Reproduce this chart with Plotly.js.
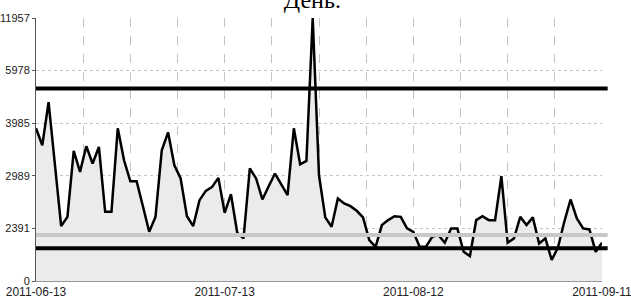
<!DOCTYPE html>
<html>
<head>
<meta charset="utf-8">
<script src="https://cdn.plot.ly/plotly-3.0.1.min.js"></script>
<style>
html,body{margin:0;padding:0;background:#fff;}
#chart{width:631px;height:302px;}
</style>
</head>
<body>
<div id="chart"></div>
<script>
// ---- data ----
var startDate = "2011-06-13";
var dailyValues = [
  3861, 3497, 4602, 3163, 2413, 2501, 3389, 3046, 3478, 3174,
  3464, 2552, 2552, 3861, 3228, 2915, 2915, 2612, 2361, 2501,
  3403, 3768, 3147, 2952, 2508, 2413, 2679, 2789, 2839, 2960,
  2542, 2749, 2352, 2304, 3097, 2952, 2687, 2849, 3022, 2871,
  2737, 3861, 3163, 3217, 11957, 2997, 2496, 2406, 2698, 2642,
  2612, 2563, 2496, 2290, 2235, 2422, 2469, 2508, 2501, 2391,
  2361, 2235, 2235, 2318, 2332, 2268, 2391, 2391, 2196, 2164,
  2469, 2508, 2469, 2469, 2983, 2268, 2304, 2501, 2422, 2496,
  2262, 2304, 2135, 2230, 2453, 2687, 2486, 2391, 2382, 2196,
  2268
];
var yTickValues = [11957, 5978, 3985, 2989, 2391, 0];
var yTickLabels = ["11957", "5978", "3985", "2989", "2391", "0"];
var xTickLabels = ["2011-06-13", "2011-07-13", "2011-08-12", "2011-09-11"];
var upperLimit = 5114;
var meanLine = 2332;
var lowerLimit = 2223;
var titleText = "День.";

// ---- reciprocal scale (axis ticks are max/1, max/2, ... ; "0" sits one step below) ----
var maxV = yTickValues[0];
function tr(v){ return v > 0 ? -maxV / v : -(yTickValues.length); }
var yMin = tr(0), yMax = tr(maxV);

var DAY = 86400000;
var t0 = new Date(startDate + "T00:00:00Z").getTime();
function d(i){ return new Date(t0 + i*DAY).toISOString().slice(0,23).replace("T"," "); }
var nDays = dailyValues.length - 1;
var xs = dailyValues.map(function(_, i){ return d(i); });
var ys = dailyValues.map(tr);
var xEnd = d(nDays);

// grid every 7.5 days, label every 4th
var gridVals = [], gridText = [];
for (var g = 0; g <= 12; g++) {
  gridVals.push(d(Math.min(g*7.5, nDays - 0.001)));
  gridText.push(g % 4 === 0 ? xTickLabels[g/4] : "");
}

var base = {x:[xs[0], xEnd], y:[yMin, yMin], mode:"lines", line:{width:0, color:"rgba(0,0,0,0)"}, hoverinfo:"skip", showlegend:false};
var series = {x:xs, y:ys, mode:"lines", fill:"tonexty", fillcolor:"#ebebeb",
  line:{color:"#000", width:2.5}, showlegend:false};

function yp(v){ return (tr(v) - yMin) / (yMax - yMin); }
function hline(v, color, w){
  return {type:"line", xref:"paper", yref:"paper", x0:0, x1:1.01, y0:yp(v), y1:yp(v),
    line:{color:color, width:w}, layer:"above"};
}

var layout = {
  width:631, height:302,
  margin:{l:36, r:29.3, t:17.5, b:21, pad:0},
  paper_bgcolor:"#fff", plot_bgcolor:"#fff",
  title:{text:titleText, font:{family:"Liberation Serif, Times New Roman, serif", size:24, color:"#000"},
    x:0.495, xanchor:"center", y:1.0, yref:"container", yanchor:"middle"},
  xaxis:{type:"date", range:[xs[0], xEnd], tickmode:"array", tickvals:gridVals, ticktext:gridText,
    showgrid:true, gridcolor:"#c4c4c4", griddash:"dash", gridwidth:1, ticklabeloverflow:"allow",
    showline:true, linecolor:"#999", linewidth:1, ticks:"", zeroline:false,
    tickfont:{family:"Liberation Sans Narrow, Arial Narrow, sans-serif", size:12, color:"#222"}},
  yaxis:{range:[yMin, yMax], tickmode:"array", tickvals:yTickValues.map(tr), ticktext:yTickLabels,
    showgrid:true, gridcolor:"#c4c4c4", griddash:"dot", gridwidth:1,
    showline:true, linecolor:"#555", linewidth:1, ticks:"outside", ticklen:3, tickcolor:"#555",
    zeroline:false,
    tickfont:{family:"Liberation Sans Narrow, Arial Narrow, sans-serif", size:11, color:"#222"}},
  shapes:[hline(upperLimit, "#000", 4), hline(meanLine, "#c8c8c8", 4), hline(lowerLimit, "#000", 4)]
};

Plotly.newPlot("chart", [base, series], layout, {staticPlot:true, displayModeBar:false});
</script>
</body>
</html>
